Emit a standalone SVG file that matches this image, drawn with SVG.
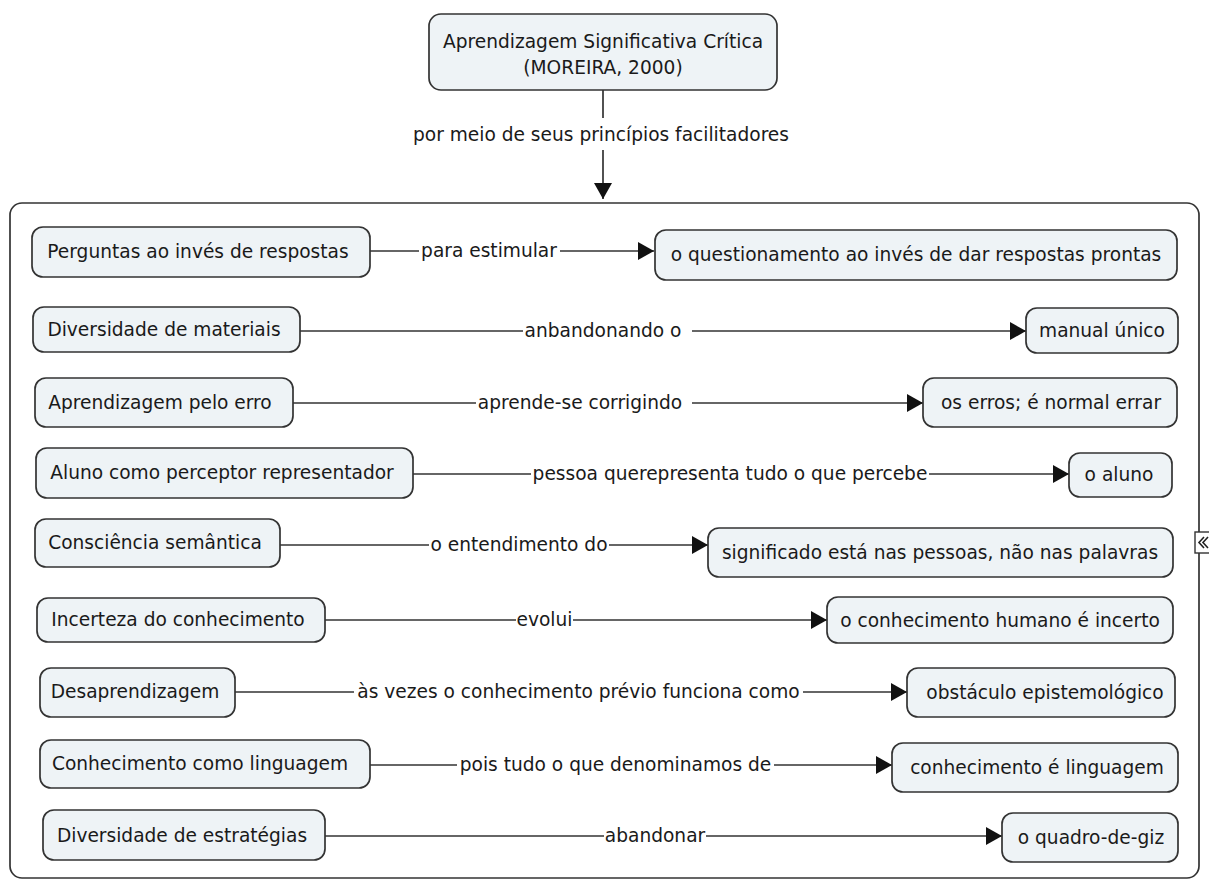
<svg xmlns="http://www.w3.org/2000/svg" width="1209" height="880" viewBox="0 0 1209 880">
<defs>
<style>
.node rect{fill:#eef3f6;stroke:#333;stroke-width:1.7}
text{font-family:"DejaVu Sans",Verdana,sans-serif;font-size:18.6px;fill:#1a1a1a}
.nt{text-anchor:middle}
.lbl{text-anchor:middle}
.c{stroke:#333;stroke-width:1.7;fill:none}
.a{marker-end:url(#arr)}
</style>
<marker id="arr" markerUnits="userSpaceOnUse" markerWidth="17" markerHeight="18" refX="16" refY="9" orient="auto">
<path d="M0,0 L16,9 L0,18 z" fill="#111"/>
</marker>
</defs>
<rect width="1209" height="880" fill="#fff"/>
<rect id="container" x="10" y="203" width="1189" height="675" rx="12" fill="none" stroke="#333" stroke-width="1.7"/>
<g id="collapse-icon">
<rect x="1195" y="532" width="16" height="21" fill="#fff" stroke="#333" stroke-width="1.4"/>
<path d="M1204,537 L1199,542.500 L1204,548 M1208,537 L1203,542.500 L1208,548" fill="none" stroke="#222" stroke-width="1.6"/>
</g>
<g id="connectors">
<line class="c" x1="603" y1="90" x2="603" y2="118"/>
<line class="c a" x1="603" y1="150" x2="603" y2="199"/>
<text class="lbl" x="601" y="141">por meio de seus princípios facilitadores</text>

<line class="c" x1="370" y1="251" x2="419" y2="251"/>
<line class="c a" x1="560" y1="251" x2="654" y2="251"/>
<text class="lbl" x="489" y="257">para estimular</text>

<line class="c" x1="300" y1="331" x2="523" y2="331"/>
<line class="c a" x1="692" y1="331" x2="1026" y2="331"/>
<text class="lbl" x="603" y="337">anbandonando o</text>

<line class="c" x1="293" y1="403" x2="476" y2="403"/>
<line class="c a" x1="692" y1="403" x2="923" y2="403"/>
<text class="lbl" x="580" y="409">aprende-se corrigindo</text>

<line class="c" x1="413" y1="474" x2="531" y2="474"/>
<line class="c a" x1="929" y1="474" x2="1069" y2="474"/>
<text class="lbl" x="730" y="480">pessoa querepresenta tudo o que percebe</text>

<line class="c" x1="280" y1="545" x2="429" y2="545"/>
<line class="c a" x1="609" y1="545" x2="708" y2="545"/>
<text class="lbl" x="519" y="551">o entendimento do</text>

<line class="c" x1="325" y1="620" x2="516" y2="620"/>
<line class="c a" x1="573" y1="620" x2="827" y2="620"/>
<text class="lbl" x="544.500" y="626">evolui</text>

<line class="c" x1="235" y1="692" x2="354" y2="692"/>
<line class="c a" x1="803" y1="692" x2="907" y2="692"/>
<text class="lbl" x="578.500" y="698">às vezes o conhecimento prévio funciona como</text>

<line class="c" x1="370" y1="765" x2="457" y2="765"/>
<line class="c a" x1="774" y1="765" x2="892" y2="765"/>
<text class="lbl" x="615.500" y="771">pois tudo o que denominamos de</text>

<line class="c" x1="325" y1="836" x2="604" y2="836"/>
<line class="c a" x1="706" y1="836" x2="1002" y2="836"/>
<text class="lbl" x="655" y="842">abandonar</text>
</g>

<g id="n-root" class="node">
<rect x="429" y="14" width="348" height="76" rx="12"/>
<text class="nt" x="603" y="48">Aprendizagem Significativa Crítica</text>
<text class="nt" x="603" y="74">(MOREIRA, 2000)</text>
</g>

<g id="n-perguntas" class="node"><rect x="32" y="227" width="338" height="50" rx="11"/><text class="nt" x="198" y="258">Perguntas ao invés de respostas</text></g>
<g id="n-questionamento" class="node"><rect x="655" y="230" width="522" height="50" rx="11"/><text class="nt" x="916" y="261">o questionamento ao invés de dar respostas prontas</text></g>

<g id="n-divmat" class="node"><rect x="33" y="307" width="267" height="45" rx="11"/><text class="nt" x="164" y="336">Diversidade de materiais</text></g>
<g id="n-manual" class="node"><rect x="1026" y="308" width="152" height="45" rx="11"/><text class="nt" x="1102" y="337">manual único</text></g>

<g id="n-erro" class="node"><rect x="35" y="378" width="258" height="49" rx="11"/><text class="nt" x="160" y="409">Aprendizagem pelo erro</text></g>
<g id="n-erros" class="node"><rect x="923" y="378" width="254" height="49" rx="11"/><text class="nt" x="1051" y="409">os erros; é normal errar</text></g>

<g id="n-aluno-perc" class="node"><rect x="36" y="448" width="377" height="50" rx="11"/><text class="nt" x="222" y="479">Aluno como perceptor representador</text></g>
<g id="n-aluno" class="node"><rect x="1069" y="453" width="103" height="44" rx="11"/><text class="nt" x="1119" y="481">o aluno</text></g>

<g id="n-consciencia" class="node"><rect x="35" y="519" width="245" height="48" rx="11"/><text class="nt" x="155" y="549">Consciência semântica</text></g>
<g id="n-significado" class="node"><rect x="708" y="528" width="465" height="49" rx="11"/><text class="nt" x="940" y="559">significado está nas pessoas, não nas palavras</text></g>

<g id="n-incerteza" class="node"><rect x="37" y="598" width="288" height="44" rx="11"/><text class="nt" x="178" y="626">Incerteza do conhecimento</text></g>
<g id="n-humano" class="node"><rect x="827" y="597" width="346" height="46" rx="11"/><text class="nt" x="1000" y="627">o conhecimento humano é incerto</text></g>

<g id="n-desaprend" class="node"><rect x="40" y="668" width="195" height="49" rx="11"/><text class="nt" x="135" y="698">Desaprendizagem</text></g>
<g id="n-obstaculo" class="node"><rect x="907" y="668" width="268" height="49" rx="11"/><text class="nt" x="1045" y="699">obstáculo epistemológico</text></g>

<g id="n-conh-ling" class="node"><rect x="40" y="740" width="330" height="48" rx="11"/><text class="nt" x="200" y="770">Conhecimento como linguagem</text></g>
<g id="n-ling" class="node"><rect x="892" y="743" width="286" height="49" rx="11"/><text class="nt" x="1037" y="774">conhecimento é linguagem</text></g>

<g id="n-divestr" class="node"><rect x="43" y="810" width="282" height="50" rx="11"/><text class="nt" x="182" y="842">Diversidade de estratégias</text></g>
<g id="n-quadro" class="node"><rect x="1002" y="813" width="176" height="49" rx="11"/><text class="nt" x="1091" y="844">o quadro-de-giz</text></g>
</svg>
